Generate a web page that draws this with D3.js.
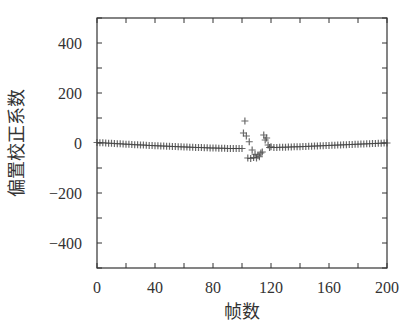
<!DOCTYPE html>
<html>
<head>
<meta charset="utf-8">
<script src="https://cdn.jsdelivr.net/npm/d3@7"></script>
<style>
  body { margin: 0; background: #fff; }
  .tick-label { font-family: "Liberation Serif", "DejaVu Serif", serif; font-size: 16px; fill: #333; }
  .axis-label { font-family: "Noto Sans CJK SC", sans-serif; font-size: 18px; fill: #333; }
</style>
</head>
<body>
<div id="app"></div>
<script>
// frames 0..98 step 2
const leftFrames = d3.range(0, 100, 2)
const leftValues = [2, 1, 1, 0, -1, -1, -2, -3, -3, -4, -5, -5, -6, -7, -7, -8, -8, -9, -10, -10,
  -11, -11, -12, -12, -13, -13, -14, -14, -15, -15, -16, -16, -17, -17, -18, -18, -18, -19, -19, -20,
  -20, -20, -21, -21, -21, -22, -22, -22, -22, -22]
// disturbed region
const midFrames = [100, 101, 102, 103, 104, 105, 106, 107, 108, 109, 110, 111, 112, 113, 114, 115, 116, 117, 118, 119, 120]
const midValues = [-22, 40, 88, 28, -60, 5, -62, -28, -58, -45, -60, -48, -55, -40, -36, 32, 12, 20, -8, -18, -15]
// frames 122..200 step 2
const rightFrames = d3.range(122, 201, 2)
const rightValues = [-18, -18, -17, -17, -17, -16, -16, -15, -15, -15, -14, -14, -13, -13, -12, -12, -11, -11, -10, -10,
  -9, -9, -8, -8, -7, -7, -6, -6, -5, -5, -4, -4, -3, -3, -2, -2, -1, -1, 0, 0]

const xLabels = [0, 40, 80, 120, 160, 200]
const yLabels = [-400, -200, 0, 200, 400]
const xLabel = '帧数'
const yLabel = '偏置校正系数'

const points = []
leftFrames.forEach((f, i) => points.push({ f, v: leftValues[i] }))
midFrames.forEach((f, i) => points.push({ f, v: midValues[i] }))
rightFrames.forEach((f, i) => points.push({ f, v: rightValues[i] }))

const W = 400, H = 322
const margin = { top: 18, right: 13, bottom: 54, left: 97 }
const width = W - margin.left - margin.right
const height = H - margin.top - margin.bottom

const svg = d3.select('#app').append('svg')
  .attr('width', W).attr('height', H)
const g = svg.append('g').attr('transform', `translate(${margin.left},${margin.top})`)

const x = d3.scaleLinear().domain([0, 200]).range([0, width])
const y = d3.scaleLinear().domain([-500, 500]).range([height, 0])

const tk = 5
const stroke = '#333'

// ticks (inward, mirrored)
const xt = d3.range(0, 201, 20)
const yt = d3.range(-500, 501, 100)
g.selectAll('.xtb').data(xt).join('line')
  .attr('x1', d => x(d)).attr('x2', d => x(d))
  .attr('y1', height).attr('y2', height - tk).attr('stroke', stroke)
g.selectAll('.xtt').data(xt).join('line')
  .attr('x1', d => x(d)).attr('x2', d => x(d))
  .attr('y1', 0).attr('y2', tk).attr('stroke', stroke)
g.selectAll('.ytl').data(yt).join('line')
  .attr('y1', d => y(d)).attr('y2', d => y(d))
  .attr('x1', 0).attr('x2', tk).attr('stroke', stroke)
g.selectAll('.ytr').data(yt).join('line')
  .attr('y1', d => y(d)).attr('y2', d => y(d))
  .attr('x1', width).attr('x2', width - tk).attr('stroke', stroke)

// frame
g.append('rect').attr('width', width).attr('height', height)
  .attr('fill', 'none').attr('stroke', stroke).attr('stroke-width', 1.2)

// tick labels
g.selectAll('.xl').data(xLabels).join('text')
  .attr('class', 'tick-label')
  .attr('x', d => x(d)).attr('y', height + 25)
  .attr('text-anchor', 'middle')
  .text(d => d)
g.selectAll('.yl').data(yLabels).join('text')
  .attr('class', 'tick-label')
  .attr('x', -15).attr('y', d => y(d)).attr('dy', '0.35em')
  .attr('text-anchor', 'end')
  .text(d => d < 0 ? '\u2212' + Math.abs(d) : d)

// markers
const s = 3.5
g.selectAll('.pt').data(points).join('path')
  .attr('d', d => `M${x(d.f) - s},${y(d.v)}h${2 * s}M${x(d.f)},${y(d.v) - s}v${2 * s}`)
  .attr('stroke', '#444').attr('stroke-width', 1.2).attr('fill', 'none').attr('opacity', 0.8)

// axis labels
g.append('text').attr('class', 'axis-label')
  .attr('x', width / 2).attr('y', height + 50)
  .attr('text-anchor', 'middle').text(xLabel)
g.append('text').attr('class', 'axis-label')
  .attr('transform', `translate(${-74},${height / 2}) rotate(-90)`)
  .attr('text-anchor', 'middle').text(yLabel)
</script>
</body>
</html>
